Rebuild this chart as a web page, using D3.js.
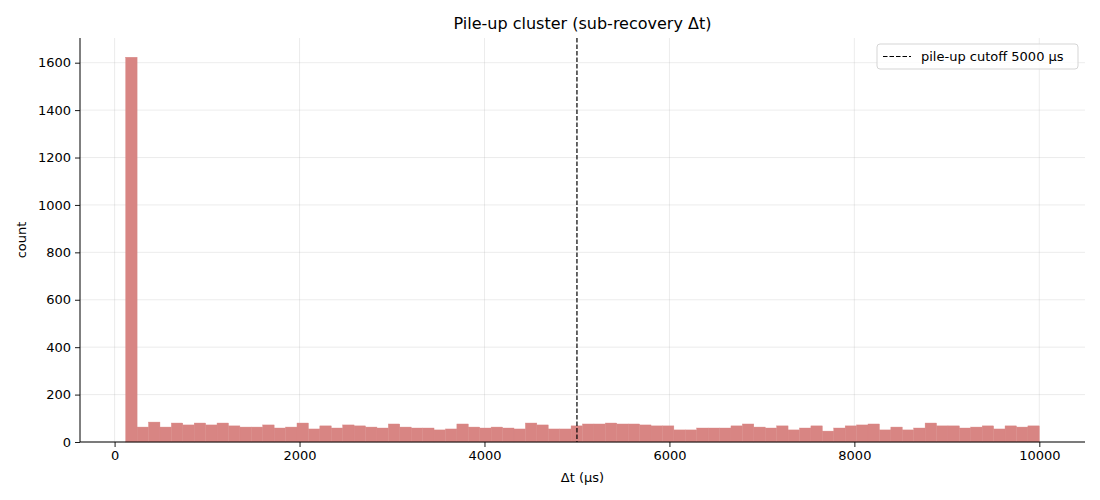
<!DOCTYPE html>
<html><head><meta charset="utf-8">
<script src="https://cdn.jsdelivr.net/npm/d3@7"></script>
<style>
body{margin:0;background:#fff;}
text{font-family:"DejaVu Sans",sans-serif;}
</style></head>
<body><svg id="chart" width="1100" height="500"></svg>
<script>
const binStart = 120;
const binEnd = 10000;
const counts = [1623,63,84,63,80,72,80,72,80,68,63,63,72,59,63,80,55,68,59,72,
68,63,59,76,63,59,59,51,55,76,63,59,63,59,55,80,72,55,55,68,
76,76,80,76,76,72,68,68,51,51,59,59,59,68,76,63,59,68,51,59,
68,46,59,68,72,76,51,63,51,59,80,68,68,59,63,68,55,68,63,68];
const xTicks = [0,2000,4000,6000,8000,10000];
const yTicks = [0,200,400,600,800,1000,1200,1400,1600];
const cutoff = 5000;
const titleText = "Pile-up cluster (sub-recovery Δt)";
const xLabel = "Δt (µs)";
const yLabel = "count";
const legendText = "pile-up cutoff 5000 µs";

const svg = d3.select("#chart");
const L = 80, R = 1085, T = 38, B = 442;
const nb = counts.length;
const bw = (binEnd - binStart) / nb;
const bins = counts.map((c,i)=>({x0: binStart + i*bw, x1: binStart + (i+1)*bw, c}));
const pad = (binEnd - binStart) * 0.05;
const x = d3.scaleLinear().domain([binStart - pad, binEnd + pad]).range([L, R]);
const yMax = d3.max(counts) * 1.05;
const y = d3.scaleLinear().domain([0, yMax]).range([B, T]);

// grid
const g = svg.append("g");
g.selectAll(".gx").data(xTicks).join("line")
  .attr("x1", d=>x(d)).attr("x2", d=>x(d)).attr("y1", T).attr("y2", B)
  .attr("stroke", "#b0b0b0").attr("stroke-opacity", 0.3).attr("stroke-width", 0.8);
g.selectAll(".gy").data(yTicks).join("line")
  .attr("x1", L).attr("x2", R).attr("y1", d=>y(d)).attr("y2", d=>y(d))
  .attr("stroke", "#b0b0b0").attr("stroke-opacity", 0.3).attr("stroke-width", 0.8);

// bars
svg.append("g").selectAll("rect").data(bins).join("rect")
  .attr("x", d=>x(d.x0)).attr("width", d=>x(d.x1)-x(d.x0))
  .attr("y", d=>y(d.c)).attr("height", d=>B - y(d.c))
  .attr("fill", "#d88583").attr("stroke", "#d88583").attr("stroke-width", 0.4);

// cutoff line
svg.append("line").attr("x1", x(cutoff)).attr("x2", x(cutoff)).attr("y1", T).attr("y2", B)
  .attr("stroke", "#000").attr("stroke-width", 1.2).attr("stroke-dasharray", "4.5,2");

// axes
const xa = svg.append("g").attr("transform", `translate(0,${B})`)
  .call(d3.axisBottom(x).tickValues(xTicks).tickSize(5).tickPadding(4).tickFormat(d3.format("d")));
const ya = svg.append("g").attr("transform", `translate(${L},0)`)
  .call(d3.axisLeft(y).tickValues(yTicks).tickSize(5).tickPadding(4).tickFormat(d3.format("d")));
[xa, ya].forEach(a=>{
  a.selectAll("text").attr("font-size", "13px").attr("fill", "#000").attr("font-family", "DejaVu Sans");
  a.selectAll("line").attr("stroke", "#000").attr("stroke-width", 0.9);
  a.select(".domain").remove();
});
svg.append("line").attr("x1", L).attr("x2", R).attr("y1", B).attr("y2", B).attr("stroke", "#000").attr("stroke-width", 1);
svg.append("line").attr("x1", L).attr("x2", L).attr("y1", T).attr("y2", B).attr("stroke", "#000").attr("stroke-width", 1);

// labels
svg.append("text").attr("x", (L+R)/2).attr("y", 29).attr("text-anchor", "middle")
  .attr("font-size", "16px").text(titleText);
svg.append("text").attr("x", (L+R)/2).attr("y", 482).attr("text-anchor", "middle")
  .attr("font-size", "13px").text(xLabel);
svg.append("text").attr("transform", `translate(26,${(T+B)/2}) rotate(-90)`).attr("text-anchor", "middle")
  .attr("font-size", "13px").text(yLabel);

// legend
const lg = svg.append("g");
lg.append("rect").attr("x", 877).attr("y", 44).attr("width", 201).attr("height", 25).attr("rx", 3)
  .attr("fill", "#fff").attr("fill-opacity", 0.8).attr("stroke", "#d5d5d5");
lg.append("line").attr("x1", 883).attr("x2", 911).attr("y1", 56.5).attr("y2", 56.5)
  .attr("stroke", "#000").attr("stroke-width", 1.2).attr("stroke-dasharray", "4.5,2");
lg.append("text").attr("x", 921).attr("y", 61).attr("font-size", "13px").text(legendText);
</script></body></html>
